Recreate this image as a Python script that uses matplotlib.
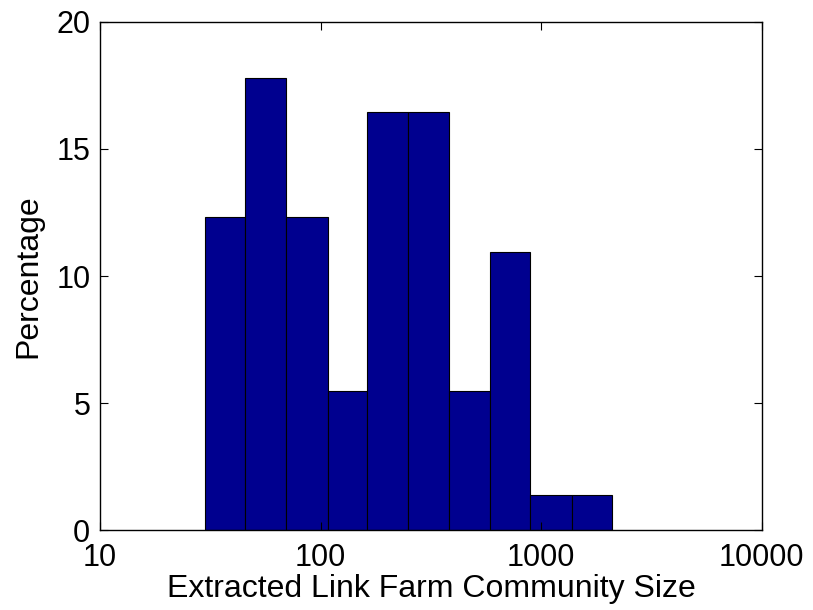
import matplotlib
matplotlib.use('Agg')
from matplotlib import pyplot as plt
from matplotlib import ticker
import numpy as np

# bin edges (community size, log spaced) and percentage per bin
bin_edges = [30, 45.5, 70, 107.5, 163, 250, 384, 587, 893, 1374, 2104]
percentages = [12.33, 17.81, 12.33, 5.48, 16.44, 16.44, 5.48, 10.96, 1.37, 1.37]
x_ticks = [10, 100, 1000, 10000]
x_tick_labels = ['10', '100', '1000', '10000']
y_ticks = [0, 5, 10, 15, 20]

plt.rcParams['font.family'] = ['Liberation Sans', 'DejaVu Sans']

fig = plt.figure(figsize=(8.13, 6.10), dpi=100)
ax = fig.add_axes([0.123, 0.131, 0.814, 0.833])

edges = np.array(bin_edges)
ax.bar(edges[:-1], percentages, width=np.diff(edges), align='edge',
       color='#00008F', edgecolor='black', linewidth=0.8)

ax.set_xscale('log')
ax.set_xlim(10, 10000)
ax.set_ylim(0, 20)
ax.set_xticks(x_ticks)
ax.set_xticklabels(x_tick_labels)
ax.xaxis.set_minor_locator(ticker.NullLocator())
ax.set_yticks(y_ticks)

ax.tick_params(direction='in', length=6, width=0.8, top=True, right=True,
               labelsize=22)
ax.tick_params(axis='x', pad=9)
ax.tick_params(axis='y', pad=7)
for s in ax.spines.values():
    s.set_linewidth(1.0)

ax.set_xlabel('Extracted Link Farm Community Size', fontsize=23, labelpad=1)
ax.set_ylabel('Percentage', fontsize=23, labelpad=9)

fig.savefig('out.png', dpi=100)
